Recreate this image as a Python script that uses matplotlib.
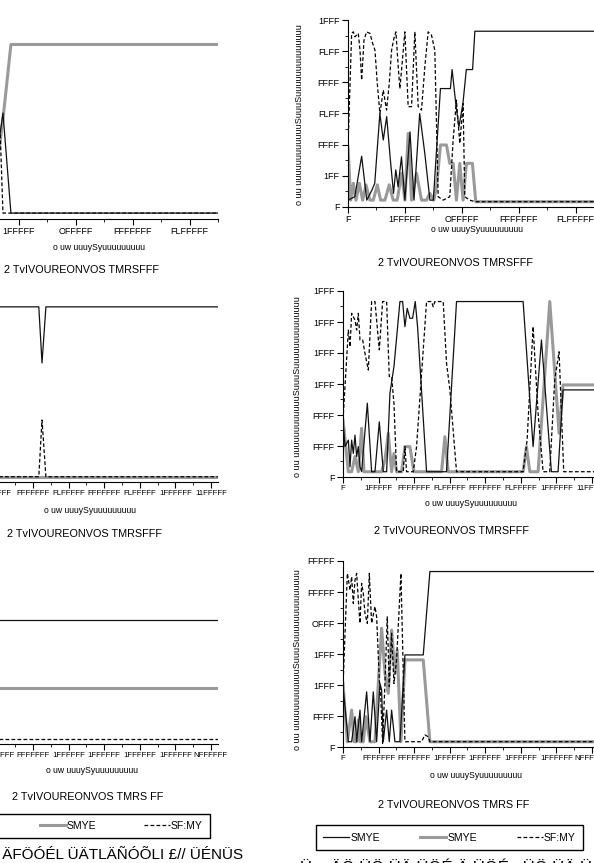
import matplotlib
matplotlib.use("Agg")
import matplotlib.pyplot as plt
from matplotlib.ticker import MultipleLocator

plt.rcParams['font.family'] = ['Liberation Sans Narrow', 'Liberation Sans', 'DejaVu Sans']

W, H = 594, 863

# ---- text (as printed in the figure) ----
ylab = "o uu uuuuuuuuuuuuSuuuSuuuuuuuuuuuuuu"
xlab = "o uw uuuySyuuuuuuuuu"
legend_labels = ["SMYE", "SMYE", "SF:MY"]
yt_top = ["F", "1FF", "FFFF", "FLFF", "FFFF", "FLFF", "1FFF"]
yt_mid = ["F", "FFFF", "FFFF", "1FFF", "1FFF", "1FFF", "1FFF"]
yt_bot = ["F", "FFFF", "1FFF", "1FFF", "OFFF", "FFFFF", "FFFFF"]
xt_top = ["F", "1FFFFF", "OFFFFF", "FFFFFFF", "FLFFFFF"]
xt_mid = ["F", "1FFFFF", "FFFFFFF", "FLFFFFF", "FFFFFFF", "FLFFFFF", "1FFFFFF", "11FFFFF"]
xt_bot = ["F", "FFFFFFF", "FFFFFFF", "1FFFFFF", "1FFFFFF", "1FFFFFF", "1FFFFFF", "NFFFFFF"]
cap_top = "2 TvIVOUREONVOS TMRSFFF"
cap_bot = "2 TvIVOUREONVOS TMRS FF"
foot_left = "ÜN ÄFÖÓÉL ÜÄTLÄÑÓÕLI £// ÜÉNÜS"

# ---- top left ----
tl_bk_x = [0, .1, .2, .3, .4, .5, .6, .67, .72, .86, 4.5]
tl_bk_y = [.4, 1.2, .3, 2.0, .8, 1.5, 2.2, 2.75, 3.4, .19, .19]
tl_gr_x = [0, .1, .2, .3, .4, .5, .6, .67, .72, .86, 4.5]
tl_gr_y = [1.0, .2, .7, .2, .9, .3, 1.5, 2.5, 3.2, 5.6, 5.6]
tl_ds_x = [0, .1, .2, .3, .4, .5, .6, .67, .72, 4.5]
tl_ds_y = [5.5, 5.0, 5.6, 4.5, 5.6, 4.0, 3.0, 2.85, .19, .19]

# ---- top right ----
tr_bk_x = [0, .12, .24, .33, .42, .47, .56, .62, .68, .74, .8, .84, .88, .94, 1.0, 1.09,
           1.16, 1.26, 1.35, 1.44, 1.5, 1.625, 1.8, 1.83, 1.9, 1.95, 2.02, 2.08, 2.19, 2.23, 4.5]
tr_bk_y = [.22, .33, 1.63, .22, .54, .76, 3.0, 2.15, 2.9, 1.61, .44, 1.19, .65, 1.61, .22, 2.41,
           .22, 3.0, 1.72, .22, .22, 3.8, 3.8, 4.41, 3.22, 2.57, 3.32, 4.41, 4.41, 5.64, 5.64]
tr_gr_x = [0, .047, .094, .14, .199, .257, .316, .386, .444, .515, .573, .649, .725, .795, .865,
           .942, 1.0, 1.058, 1.117, 1.205, 1.292, 1.38, 1.439, 1.509, 1.556, 1.626, 1.731, 1.789,
           1.848, 1.906, 1.965, 2.023, 2.082, 2.187, 2.246, 4.5]
tr_gr_y = [1.93, .22, .76, .22, .76, .22, .71, .22, .22, .71, .22, .22, .71, .22, .22,
           1.08, .22, 2.36, .22, 1.08, .22, .22, .44, .22, .65, 1.99, 1.99, 1.4,
           1.4, .22, 1.4, .22, 1.4, 1.4, .17, .17]
tr_ds_x = [0, .064, .094, .123, .181, .211, .24, .281, .327, .386, .433, .474, .515, .561, .62,
           .678, .725, .766, .807, .842, .883, .912, 1.0, 1.058, 1.117, 1.175, 1.234, 1.292,
           1.351, 1.409, 1.468, 1.526, 1.585, 1.673, 1.789, 1.848, 1.906, 1.965, 2.023, 2.053,
           2.14, 2.234, 4.5]
tr_ds_y = [1.93, 5.57, 5.62, 5.46, 5.57, 5.03, 4.07, 5.35, 5.62, 5.57, 5.25, 5.03, 3.96, 3.0, 3.75,
           3.11, 3.96, 5.03, 5.41, 5.62, 4.5, 3.8, 5.62, 3.22, 3.22, 5.62, 3.22, 3.11,
           4.5, 5.62, 5.51, 5.03, .33, .22, .33, 2.15, 3.43, 2.04, 3.32, .33,
           .22, .17, .17]

# ---- middle left ----
ml_bk_x = [0, .3, .6, 2.16, 2.25, 2.36, 7.2]
ml_bk_y = [1.8, 4.0, 5.65, 5.65, 3.84, 5.65, 5.65]
ml_gr_x = [0, .3, .6, 7.2]
ml_gr_y = [1.8, .6, .17, .17]
ml_ds_x = [0, .3, .6, 2.16, 2.25, 2.36, 7.2]
ml_ds_y = [3.5, 1.5, .17, .17, 2.0, .17, .17]

# ---- middle right ----
mr_bk_x = [0, .056, .15, .197, .243, .29, .337, .384, .431, .478, .524, .684, .805, .899, 1.021,
           1.133, 1.227, 1.32, 1.433, 1.601, 1.676, 1.742, 1.807, 1.882, 1.957, 2.032, 2.097,
           2.35, 2.631, 2.912, 3.193, 5.066, 5.346, 5.581, 5.861, 6.049, 6.189, 7.2]
mr_bk_y = [1.84, .98, 1.19, .33, 1.19, .76, 1.35, .66, .98, .33, .17, 2.38, .17, .17, 1.78,
           .17, .17, 2.7, 3.56, 5.66, 5.66, 4.85, 5.44, 5.12, 5.12, 5.66, 4.85,
           .17, .17, .17, 5.66, 5.66, .98, 4.42, .17, .17, 2.81, 2.81]
mr_gr_x = [0, .15, .243, .337, .431, .524, .59, .758, .946, 1.086, 1.18, 1.273, 1.367, 1.433,
           1.507, 1.648, 1.742, 1.882, 1.994, 2.772, 2.865, 2.959, 5.066, 5.159, 5.253, 5.487,
           5.815, 6.077, 6.189, 7.2]
mr_gr_y = [1.84, .17, .17, .66, .17, 1.57, .17, .17, .17, .17, .55, 1.41, .17, .76,
           .17, .17, .98, .98, .17, .17, 1.3, .17, .17, .98, .17, .17,
           5.66, 1.41, 2.97, 2.97]
mr_ds_x = [0, .15, .197, .243, .337, .384, .431, .478, .553, .618, .712, .805, .899, 1.021, 1.114,
           1.227, 1.301, 1.367, 1.433, 1.507, 1.695, 1.742, 1.788, 1.976, 2.069, 2.35, 2.491,
           2.537, 2.584, 2.818, 2.912, 3.006, 3.193, 5.066, 5.178, 5.346, 5.487, 5.628, 5.815,
           5.955, 6.077, 6.208, 7.2]
mr_ds_y = [1.84, 4.74, 4.2, 5.28, 5.06, 4.74, 5.28, 4.42, 4.42, 3.99, 3.45, 5.66, 5.66, 4.1, 5.66,
           5.66, 3.24, 3.24, 2.38, .17, .17, .98, .17, .17, .98, 5.66, 5.66,
           5.49, 5.66, 5.66, 3.67, 2.81, .17, .17, 1.19, 4.85, 2.05, .17, .17,
           3.13, 4.04, .17, .17]

# ---- bottom left ----
bl_bk_x = [0, .3, .6, 7.2]
bl_bk_y = [1.5, 3.2, 4.0, 4.0]
bl_gr_x = [0, .3, .6, 7.2]
bl_gr_y = [.6, 2.5, 1.8, 1.8]
bl_ds_x = [0, .3, .6, 7.2]
bl_ds_y = [4.8, 2.0, .17, .17]

# ---- bottom right ----
br_bk_x = [0, .15, .243, .337, .384, .478, .524, .665, .758, .852, .946, 1.039, 1.086, 1.133,
           1.227, 1.301, 1.367, 1.461, 1.601, 1.742, 2.257, 2.444, 7.2]
br_bk_y = [1.95, .17, .17, .98, .17, 1.19, .17, 1.78, .17, 1.78, .17, 2.05, 1.84, .17,
           1.19, .17, 1.19, .17, .17, 2.97, 2.97, 5.66, 5.66]
br_gr_x = [0, .122, .243, .309, .384, .431, .478, .571, .646, .758, .899, .993, 1.086, 1.18,
           1.273, 1.367, 1.461, 1.526, 1.629, 1.742, 2.257, 2.444, 7.2]
br_gr_y = [2.05, .17, 1.19, .17, .17, .87, .17, .17, .98, .17, .17, 2.05, 3.83, 2.38,
           1.73, 3.77, 2.38, 3.13, .17, 2.81, 2.81, .17, .17]
br_ds_x = [0, .122, .197, .243, .29, .337, .384, .431, .478, .524, .571, .618, .684, .74, .805,
           .899, .946, 1.021, 1.058, 1.114, 1.18, 1.245, 1.301, 1.367, 1.433, 1.507, 1.629,
           1.742, 2.21, 2.303, 2.397, 2.444, 7.2]
br_ds_y = [1.95, 5.6, 5.06, 5.49, 4.63, 5.38, 5.6, 4.74, 3.99, 5.28, 4.96, 4.31, 3.99, 5.6, 3.99,
           4.53, 4.2, 2.16, 1.73, .12, 2.05, 4.2, 1.95, 3.67, 2.05, 2.81, 5.6,
           .17, .17, .39, .33, .17, .17]


def rect(l, r, t, b):
    return [l / W, 1 - b / H, (r - l) / W, (b - t) / H]


def ftext(x, y, s, **kw):
    fig.text(x / W, 1 - y / H, s, ha='center', va='center', **kw)


fig = plt.figure(figsize=(W / 100, H / 100), dpi=100)

panels = [
    # rect, xmax, xticklabels, yticklabels, series, xlabel pos, caption pos, caption, ylabel pos, xtick size
    ((-38, 218, 32, 219), 4.5, xt_top, yt_top, (tl_bk_x, tl_bk_y, tl_gr_x, tl_gr_y, tl_ds_x, tl_ds_y),
     (99, 248), (81, 270), cap_top, None, 6.5),
    ((348, 604, 20, 207), 4.5, xt_top, yt_top, (tr_bk_x, tr_bk_y, tr_gr_x, tr_gr_y, tr_ds_x, tr_ds_y),
     (477, 230), (455, 263), cap_top, (299, 115), 6.5),
    ((-38, 218, 296, 482), 7.2, xt_mid, yt_mid, (ml_bk_x, ml_bk_y, ml_gr_x, ml_gr_y, ml_ds_x, ml_ds_y),
     (90, 510), (85, 534), cap_top, None, 5.6),
    ((343, 599, 291, 477), 7.2, xt_mid, yt_mid, (mr_bk_x, mr_bk_y, mr_gr_x, mr_gr_y, mr_ds_x, mr_ds_y),
     (471, 503), (452, 531), cap_top, (297, 387), 5.6),
    ((-38, 218, 558, 744), 7.2, xt_bot, yt_bot, (bl_bk_x, bl_bk_y, bl_gr_x, bl_gr_y, bl_ds_x, bl_ds_y),
     (92, 770), (88, 797), cap_bot, None, 5.6),
    ((343, 599, 561, 747), 7.2, xt_bot, yt_bot, (br_bk_x, br_bk_y, br_gr_x, br_gr_y, br_ds_x, br_ds_y),
     (476, 775), (454, 805), cap_bot, (297, 660), 5.6),
]

axes = []
for r, xmax, xtl, ytl, s, xlp, cp, cap, ylp, xts in panels:
    ax = fig.add_axes(rect(*r))
    bkx, bky, grx, gry, dsx, dsy = s
    g, = ax.plot(grx, gry, color='#9a9a9a', lw=2.2, zorder=1)
    d, = ax.plot(dsx, dsy, color='black', lw=0.9, dashes=(3, 1.8), zorder=2)
    b, = ax.plot(bkx, bky, color='#111111', lw=0.9, zorder=3)
    ax.set_xlim(0, xmax)
    ax.set_ylim(0, 6)
    ax.spines['top'].set_visible(False)
    ax.spines['right'].set_visible(False)
    for sp in ('left', 'bottom'):
        ax.spines[sp].set_linewidth(0.8)
    ax.set_xticks(range(len(xtl)), xtl)
    ax.set_yticks(range(len(ytl)), ytl)
    ax.xaxis.set_minor_locator(MultipleLocator(0.5))
    ax.yaxis.set_minor_locator(MultipleLocator(0.5))
    ax.tick_params(which='major', length=4, width=0.8, labelsize=6.5, pad=2)
    ax.tick_params(axis='x', which='major', labelsize=xts)
    ax.tick_params(which='minor', length=2, width=0.6)
    ftext(xlp[0], xlp[1], xlab, fontsize=6.2)
    ftext(cp[0], cp[1], cap, fontsize=7.8)
    if ylp:
        ftext(ylp[0], ylp[1], ylab, fontsize=6.5, rotation=90)
    axes.append((ax, [b, g, d]))

# legends
for (ax, handles), box in [(axes[4], (-72, 210, 812, 840)), (axes[5], (316, 583, 823, 852))]:
    l, r, t, bt = box
    ax.legend(handles, legend_labels, loc='center', ncol=3, mode='expand',
              bbox_to_anchor=(l / W, 1 - bt / H, (r - l) / W, (bt - t) / H),
              bbox_transform=fig.transFigure, frameon=True, fancybox=False,
              edgecolor='black', framealpha=1, fontsize=7.5, handlelength=2.5,
              handletextpad=0.1, borderaxespad=0, borderpad=0.7)

ftext(110, 855, foot_left, fontsize=11)
fig.text(300 / W, 1 - 861 / H, "Üı   ÄÖ ÜÖ ÜÄ ÜÖÉ Ä ÜÖÉ   ÜÖ ÜÄ ÜÖÉ ÜÄ  Ü ÄÖ Ü", fontsize=12,
         ha='left', va='top')

fig.savefig("out.png", dpi=100)
